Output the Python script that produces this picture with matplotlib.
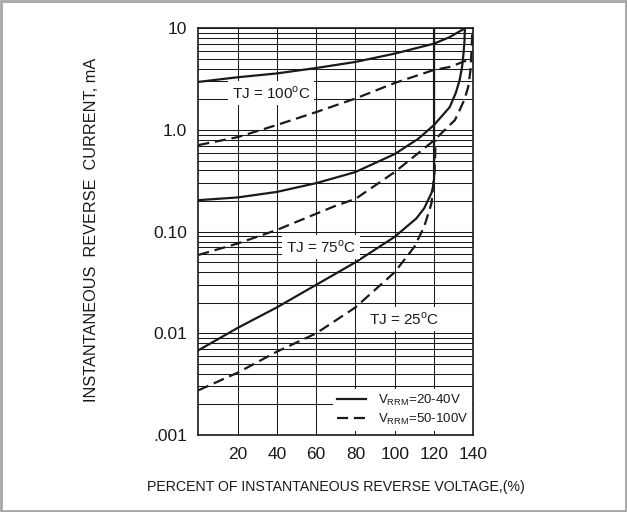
import matplotlib
matplotlib.use("Agg")
import matplotlib.pyplot as plt
from matplotlib.ticker import FixedLocator, LogLocator, NullFormatter

plt.rcParams['font.family'] = ['Liberation Sans', 'DejaVu Sans']
plt.rcParams['mathtext.fontset'] = 'custom'
plt.rcParams['mathtext.rm'] = 'Liberation Sans'

# ---- data (percent of rated reverse voltage, current in mA) ----
x_100_solid = [0, 20, 40, 60, 80, 100, 120, 128, 135.7]
y_100_solid = [2.97, 3.3, 3.6, 4.07, 4.67, 5.64, 7.07, 8.2, 10]

x_100_dash = [0, 20, 40, 60, 80, 100, 120, 128, 137.5]
y_100_dash = [0.71, 0.85, 1.12, 1.5, 2.04, 2.9, 3.9, 4.17, 4.9]

x_75_solid = [0, 20, 40, 60, 70, 80, 100, 112, 120, 128, 131, 133, 134.3, 135, 135.5, 135.7]
y_75_solid = [0.204, 0.217, 0.246, 0.30, 0.34, 0.386, 0.58, 0.82, 1.12, 1.68, 2.3, 3.08, 4.2, 5.65, 7.5, 10]

x_75_dash = [0, 20, 40, 60, 70, 80, 100, 120, 130.6, 133, 135.5, 137.4, 138.5, 139, 139.3, 139.5]
y_75_dash = [0.059, 0.0764, 0.104, 0.15, 0.18, 0.21, 0.386, 0.79, 1.25, 1.56, 2.0, 2.65, 3.8, 5.64, 7.5, 10]

x_25_solid = [0, 20, 40, 60, 80, 100, 111, 115, 118.7, 119.6, 120, 120]
y_25_solid = [0.0068, 0.0113, 0.018, 0.03, 0.05, 0.089, 0.135, 0.17, 0.24, 0.28, 0.33, 10]

x_25_dash = [0, 20, 40, 60, 80, 100, 110, 115, 118.7, 120.3, 120.8]
y_25_dash = [0.00275, 0.0041, 0.0066, 0.01, 0.018, 0.04, 0.071, 0.112, 0.19, 0.4, 0.79]

x_ticks = [20, 40, 60, 80, 100, 120, 140]
x_tick_labels = ['20', '40', '60', '80', '100', '120', '140']
y_ticks = [0.001, 0.01, 0.1, 1, 10]
y_tick_labels = ['.001', '0.01', '0.10', '1.0', '10']

legend_labels = [r'V$_\mathregular{RRM}$=20-40V', r'V$_\mathregular{RRM}$=50-100V']
temp_labels = [r'TJ = 100$^\mathregular{o}$C', r'TJ = 75$^\mathregular{o}$C', r'TJ = 25$^\mathregular{o}$C']
temp_label_pos = [(37, 2.3), (62.4, 0.0704), (104.6, 0.0138)]

# ---- figure ----
fig = plt.figure(figsize=(6.27, 5.12), dpi=100)
fig.patch.set_facecolor('white')
fig.patches.append(plt.Rectangle((0.0015, 0.002), 0.997, 0.996, transform=fig.transFigure,
                                 fill=False, edgecolor='#a6a6a6', linewidth=2.0))

ax = fig.add_axes([0.3163, 0.1504, 0.4386, 0.7943])
ax.set_yscale('log')
ax.set_xlim(0, 140)
ax.set_ylim(0.001, 10)

ax.xaxis.set_major_locator(FixedLocator(x_ticks))
ax.set_xticklabels(x_tick_labels)
ax.yaxis.set_major_locator(FixedLocator(y_ticks))
ax.set_yticklabels(y_tick_labels)
ax.yaxis.set_minor_locator(LogLocator(base=10, subs=range(2, 10)))
ax.yaxis.set_minor_formatter(NullFormatter())

ax.tick_params(axis='both', which='both', length=0, labelsize=12.5, colors='#1a1a1a')
ax.tick_params(axis='x', pad=9)
ax.tick_params(axis='y', pad=8)

ax.grid(True, which='major', axis='both', color='#1a1a1a', linewidth=0.75)
ax.grid(True, which='minor', axis='y', color='#1a1a1a', linewidth=0.75)
ax.set_axisbelow(True)
for s in ax.spines.values():
    s.set_linewidth(1.2)
    s.set_color('#1a1a1a')

lw = 1.6
dash = (5, 2.6)
ax.plot(x_100_solid, y_100_solid, color='#1a1a1a', lw=lw, zorder=3)
ax.plot(x_75_solid, y_75_solid, color='#1a1a1a', lw=lw, zorder=3)
ax.plot(x_25_solid, y_25_solid, color='#1a1a1a', lw=lw, zorder=3)
ax.plot(x_100_dash, y_100_dash, color='#1a1a1a', lw=lw, dashes=dash, zorder=3)
ax.plot(x_75_dash, y_75_dash, color='#1a1a1a', lw=lw, dashes=dash, zorder=3)
ax.plot(x_25_dash, y_25_dash, color='#1a1a1a', lw=lw, dashes=dash, zorder=3)

for lab, (tx, ty) in zip(temp_labels, temp_label_pos):
    ax.text(tx, ty, lab, ha='center', va='center', fontsize=11, color='#1a1a1a', zorder=4,
            bbox=dict(facecolor='white', edgecolor='none', pad=2.5))

h1, = ax.plot([], [], color='#1a1a1a', lw=lw)
h2, = ax.plot([], [], color='#1a1a1a', lw=lw, dashes=dash)
leg = ax.legend([h1, h2], legend_labels, loc='lower right', bbox_to_anchor=(0.995, 0.01),
                fontsize=9.5, frameon=True, fancybox=False, framealpha=1, edgecolor='none',
                facecolor='white', handlelength=2.2, handletextpad=0.9, borderpad=0.3,
                labelspacing=0.3, borderaxespad=0)
leg.set_zorder(5)
for t in leg.get_texts():
    t.set_color('#1a1a1a')

fig.text(336 / 627, 1 - 487 / 512, 'PERCENT OF INSTANTANEOUS REVERSE VOLTAGE,(%)',
         ha='center', va='center', fontsize=10.2, color='#1a1a1a')
fig.text(92 / 627, 1 - 230 / 512, 'INSTANTANEOUS  REVERSE  CURRENT, mA', rotation=90,
         ha='center', va='center', fontsize=11.7, color='#1a1a1a')

fig.savefig('out.png', dpi=100, facecolor='white')
